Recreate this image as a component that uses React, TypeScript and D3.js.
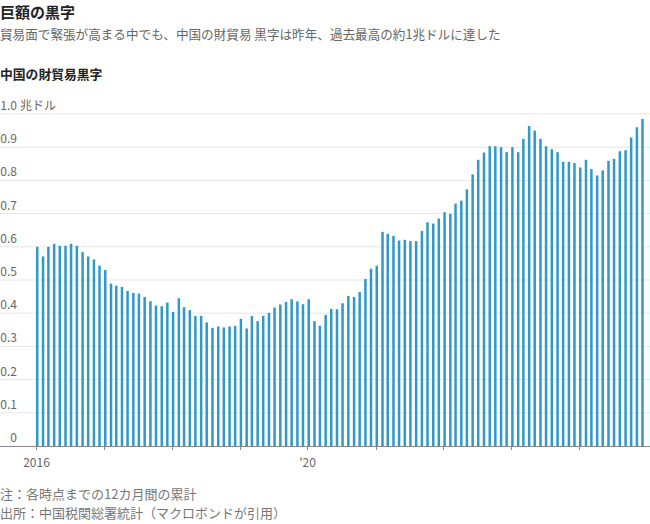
import React from "react";
import * as d3 from "d3";

const W = 650;
const H = 524;

const startYear = 2016;
// 12-month rolling goods trade surplus, trillion USD, Jan 2016 – Dec 2024
const surplus: number[] = [
  0.600, 0.571, 0.600, 0.609, 0.603, 0.603, 0.609, 0.603, 0.584, 0.571, 0.562, 0.543,
  0.530, 0.489, 0.483, 0.479, 0.467, 0.461, 0.459, 0.449, 0.436, 0.423, 0.421, 0.432,
  0.404, 0.445, 0.418, 0.409, 0.392, 0.392, 0.372, 0.356, 0.360, 0.357, 0.360, 0.362,
  0.383, 0.354, 0.392, 0.376, 0.392, 0.401, 0.417, 0.426, 0.434, 0.442, 0.436, 0.427,
  0.442, 0.376, 0.362, 0.395, 0.413, 0.412, 0.430, 0.452, 0.449, 0.464, 0.503, 0.534,
  0.543, 0.645, 0.639, 0.633, 0.619, 0.621, 0.617, 0.617, 0.648, 0.674, 0.670, 0.685,
  0.704, 0.699, 0.730, 0.739, 0.773, 0.818, 0.862, 0.884, 0.903, 0.903, 0.900, 0.885,
  0.900, 0.885, 0.925, 0.964, 0.950, 0.925, 0.903, 0.894, 0.885, 0.856, 0.856, 0.852,
  0.839, 0.862, 0.834, 0.815, 0.830, 0.859, 0.865, 0.888, 0.891, 0.929, 0.960, 0.985,
];

const yTicks: number[] = [0, 0.1, 0.2, 0.3, 0.4, 0.5, 0.6, 0.7, 0.8, 0.9, 1.0];
const yUnit = "兆ドル";
const xTickYears: number[] = [2016, 2017, 2018, 2019, 2020, 2021, 2022, 2023, 2024];
const xLabels: Record<number, string> = { 2016: "2016", 2020: "'20" };

const title = "巨額の黒字";
const subtitle = "貿易面で緊張が高まる中でも、中国の財貿易 黒字は昨年、過去最高の約1兆ドルに達した";
const chartTitle = "中国の財貿易黒字";
const note = "注：各時点までの12カ月間の累計";
const source = "出所：中国税関総署統計（マクロボンドが引用）";

const FONT = "'Noto Sans CJK JP', 'Noto Sans', sans-serif";

export default function App() {
  const data = surplus.map((v, i) => ({ date: new Date(startYear, i, 1), v }));
  const x = d3
    .scaleTime()
    .domain([new Date(2016, 0, 1), new Date(2025, 0, 1)])
    .range([36, 647]);
  const y = d3.scaleLinear().domain([0, 1]).range([446, 114]);
  const barW = 2.5;

  return (
    <svg
      width={W}
      height={H}
      style={{ position: "absolute", left: 0, top: 0, background: "#fff" }}
      fontFamily={FONT}
    >
      <text x={0} y={18} fontSize={15} fontWeight={700} fill="#222">
        {title}
      </text>
      <text x={0} y={39} fontSize={12.6} fill="#666">
        {subtitle}
      </text>
      <text x={0} y={79} fontSize={12.8} fontWeight={700} fill="#222">
        {chartTitle}
      </text>

      {yTicks.map((t) =>
        t === 0 ? null : (
          <line key={"g" + t} x1={0} x2={W} y1={y(t)} y2={y(t)} stroke="#e6e6e6" strokeWidth={1} />
        )
      )}
      {yTicks.map((t) => (
        <text key={"l" + t} x={17} y={y(t) - 4} fontSize={12} fill="#666" textAnchor="end">
          {t === 0 ? "0" : d3.format(".1f")(t)}
        </text>
      ))}
      <text x={20} y={y(1) - 4} fontSize={12} fill="#666">
        {yUnit}
      </text>

      {data.map((d, i) => (
        <rect
          key={i}
          x={x(d.date)}
          y={y(d.v)}
          width={barW}
          height={y(0) - y(d.v)}
          fill="#3199c8"
        />
      ))}

      <line x1={0} x2={W} y1={y(0) + 0.5} y2={y(0) + 0.5} stroke="#888" strokeWidth={1} />
      {xTickYears.map((yr) => {
        const px = Math.round(x(new Date(yr, 0, 1))) + 0.5;
        return (
          <g key={yr}>
            <line x1={px} x2={px} y1={y(0)} y2={y(0) + 4} stroke="#888" strokeWidth={1} />
            {xLabels[yr] ? (
              <text x={px} y={467} fontSize={12} fill="#666" textAnchor="middle">
                {xLabels[yr]}
              </text>
            ) : null}
          </g>
        );
      })}

      <text x={0} y={498.5} fontSize={13} fill="#777">
        {note}
      </text>
      <text x={0} y={517.5} fontSize={13} fill="#777">
        {source}
      </text>
    </svg>
  );
}
